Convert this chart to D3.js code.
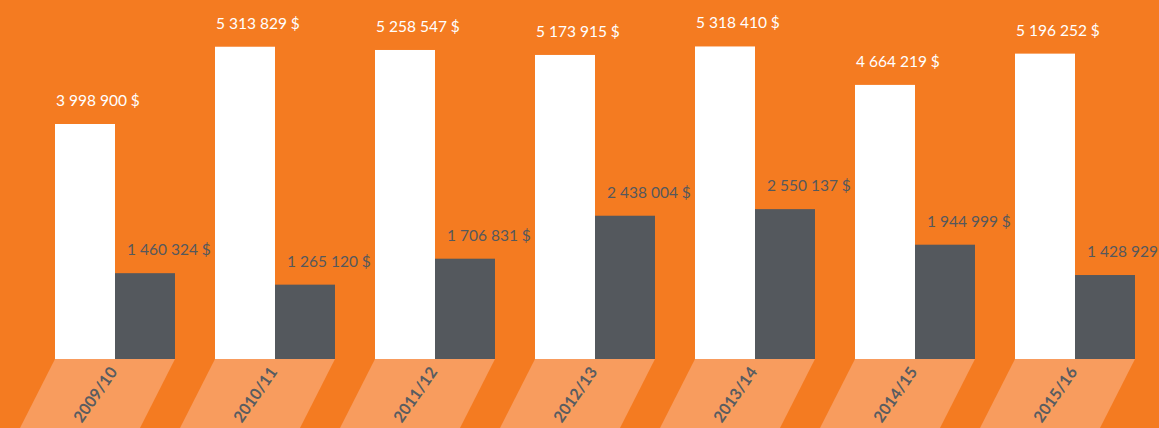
<!DOCTYPE html>
<html>
<head>
<meta charset="utf-8">
<script src="https://cdn.jsdelivr.net/npm/d3@7"></script>
<style>
  body { margin: 0; background: #f47b21; overflow: hidden; }
  svg { display: block; }
</style>
</head>
<body>
<svg width="1159" height="428"></svg>
<script>
// Chart data
const seasons = ["2009/10", "2010/11", "2011/12", "2012/13", "2013/14", "2014/15", "2015/16"];
const budget = [3998900, 5313829, 5258547, 5173915, 5318410, 4664219, 5196252];
const spent = [1460324, 1265120, 1706831, 2438004, 2550137, 1944999, 1428929];
const seriesKeys = ["budget", "spent"];

const width = 1159, height = 428;
const baseline = 359;

const svg = d3.select("svg");

const locale = d3.formatLocale({ decimal: ",", thousands: " ", grouping: [3], currency: ["", " $"] });
const fmt = v => locale.format(",")(v) + " $";

// Scales
const x = d3.scaleBand()
    .domain(seasons)
    .range([35, 1155])
    .paddingInner(0.25)
    .paddingOuter(0.125);

const xSub = d3.scaleBand()
    .domain(seriesKeys)
    .range([0, x.bandwidth()]);

const y = d3.scaleLinear()
    .domain([0, 6109000])
    .range([baseline, 0]);

const rows = seasons.map((s, i) => ({ season: s, budget: budget[i], spent: spent[i] }));

// Slanted label bands under the baseline
const slant = 35, bandTop = baseline, bandBottom = height;
svg.append("g")
    .selectAll("path")
    .data(seasons)
    .join("path")
    .attr("fill", "#f89c5e")
    .attr("d", d => {
        const x0 = x(d), x1 = x(d) + x.bandwidth();
        return `M${x0},${bandTop}L${x1},${bandTop}L${x1 - slant},${bandBottom}L${x0 - slant},${bandBottom}Z`;
    });

const groups = svg.append("g")
    .selectAll("g")
    .data(rows)
    .join("g")
    .attr("transform", d => `translate(${x(d.season)},0)`);

groups.selectAll("rect")
    .data(d => seriesKeys.map(k => ({ key: k, value: d[k] })))
    .join("rect")
    .attr("x", d => xSub(d.key))
    .attr("y", d => y(d.value))
    .attr("width", xSub.bandwidth())
    .attr("height", d => baseline - y(d.value))
    .attr("fill", d => d.key === "budget" ? "#ffffff" : "#54585d");

groups.selectAll("text.value")
    .data(d => seriesKeys.map(k => ({ key: k, value: d[k] })))
    .join("text")
    .attr("class", "value")
    .attr("x", d => xSub(d.key) + (d.key === "budget" ? 1 : 12))
    .attr("y", d => y(d.value) - 18)
    .attr("font-family", "Lato, sans-serif")
    .attr("font-size", "15.5px")
    .attr("fill", d => d.key === "budget" ? "#ffffff" : "#54585d")
    .text(d => fmt(d.value));

// Season labels, rotated inside the slanted bands
svg.append("g")
    .selectAll("text")
    .data(seasons)
    .join("text")
    .attr("transform", d => `translate(${x(d) + x.bandwidth() / 2 - slant / 2 - 1},${(bandTop + bandBottom) / 2 + 2}) rotate(-55)`)
    .attr("text-anchor", "middle")
    .attr("dominant-baseline", "middle")
    .attr("font-family", "Lato, sans-serif")
    .attr("font-size", "16px")
    .attr("font-weight", "bold")
    .attr("fill", "#585c61")
    .text(d => d);
</script>
</body>
</html>
